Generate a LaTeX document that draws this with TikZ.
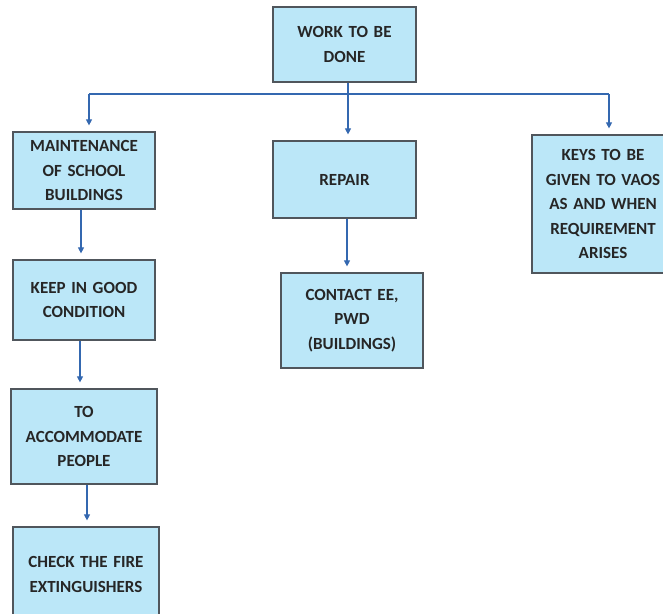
\documentclass[tikz,border=0pt]{standalone}
\usepackage{fontspec}
\setmainfont{Carlito}
\usetikzlibrary{arrows.meta}
\definecolor{boxfill}{RGB}{187,231,248}
\definecolor{boxline}{RGB}{80,86,92}
\definecolor{arrowblue}{RGB}{52,104,176}
\tikzstyle{task} = [draw=boxline, fill=boxfill, line width=1.2pt, rectangle,
   inner sep=2pt, align=center, text=black!85,
   font=\fontsize{17}{24.5}\selectfont\bfseries]
\tikzstyle{flow} = [arrowblue, line width=1.1pt,
   -{Triangle[length=6pt,width=6pt]}, shorten >= 6pt]
\tikzstyle{bus} = [arrowblue, line width=1.1pt]

\begin{document}
\begin{tikzpicture}[x=1pt, y=-1pt]
  \useasboundingbox (0,0) rectangle (663,613);
  \clip (0,0) rectangle (663,613);

  % boxes, placed at their pixel centres
  \node[task, minimum width=143pt, minimum height=75pt, text width=136pt] (work) at (344.5,44.5) {WORK TO BE\\DONE};
  \node[task, minimum width=142pt, minimum height=77pt, text width=136pt] (maint) at (84,170.5) {MAINTENANCE\\OF SCHOOL\\BUILDINGS};
  \node[task, minimum width=142pt, minimum height=80pt, text width=136pt] (keep) at (84,300) {KEEP IN GOOD\\CONDITION};
  \node[task, minimum width=146pt, minimum height=95pt, text width=140pt] (accom) at (84,436.5) {TO\\ACCOMMODATE\\PEOPLE};
  \node[task, minimum width=146pt, minimum height=95pt, text width=140pt] (check) at (86,574.5) {CHECK THE FIRE\\EXTINGUISHERS};
  \node[task, minimum width=143pt, minimum height=77pt, text width=136pt] (repair) at (344.5,179.5) {REPAIR};
  \node[task, minimum width=142pt, minimum height=95pt, text width=136pt] (contact) at (352,320.5) {CONTACT EE,\\PWD\\(BUILDINGS)};
  \node[task, minimum width=142pt, minimum height=138pt, text width=136pt] (keys) at (603,204) {KEYS TO BE\\GIVEN TO VAOS\\AS AND WHEN\\REQUIREMENT\\ARISES};

  % branch line under the top box
  \coordinate (busL) at (89,94);
  \coordinate (busM) at (348,94);
  \coordinate (busR) at (609,94);
  \draw[bus] (busL) -- (busR);
  \draw[flow] ([xshift=3.5pt]work.south) -- (busM |- repair.north);
  \draw[flow] (busL) -- (busL |- maint.north);
  \draw[flow] (busR) -- (busR |- keys.north);

  % chains downwards
  \draw[flow] ([xshift=-3pt]maint.south) -- ([xshift=-3pt]maint.south |- keep.north);
  \draw[flow] ([xshift=-4pt]keep.south) -- ([xshift=-4pt]keep.south |- accom.north);
  \draw[flow] ([xshift=3pt]accom.south) -- ([xshift=3pt]accom.south |- check.north);
  \draw[flow] ([xshift=2.5pt]repair.south) -- ([xshift=2.5pt]repair.south |- contact.north);
\end{tikzpicture}
\end{document}
